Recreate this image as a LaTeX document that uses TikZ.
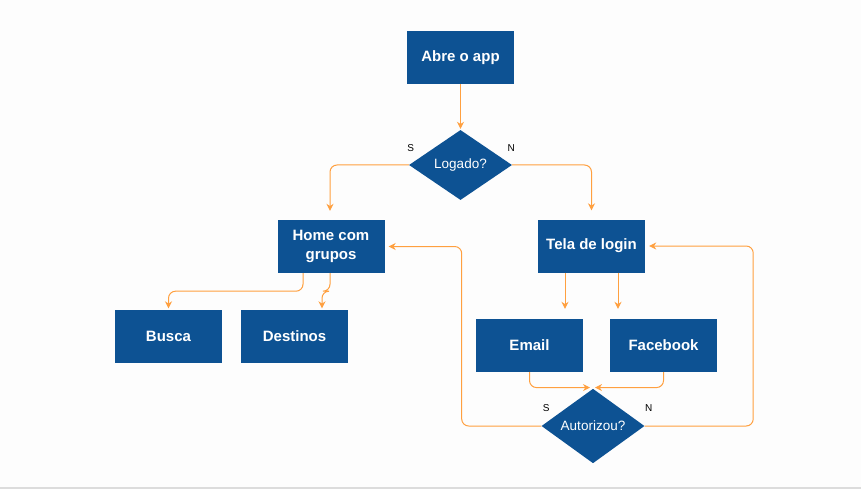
\documentclass[tikz,border=0pt]{standalone}
\usepackage{fontspec}
\setmainfont{Liberation Sans}
\usetikzlibrary{shapes.geometric,arrows.meta,positioning,calc}

\definecolor{appblue}{RGB}{13,82,147}
\definecolor{flowor}{RGB}{255,160,64}
\definecolor{pagebg}{RGB}{253,253,253}
\definecolor{pageline}{RGB}{220,220,220}

\tikzset{
    box/.style={rectangle, fill=appblue, text=white, align=center, inner sep=0pt,
        minimum width=107pt, minimum height=53pt,
        font=\bfseries\fontsize{15}{19}\selectfont},
    ask/.style={diamond, fill=appblue, text=white, inner sep=0pt,
        minimum width=103pt, minimum height=70pt,
        font=\fontsize{13.5}{16}\selectfont},
    flow/.style={draw=flowor, line width=1pt, rounded corners=7pt,
        -{Stealth[length=7pt,width=7pt]}},
    lbl/.style={inner sep=0pt, font=\fontsize{10}{12}\selectfont}
}

\begin{document}
\begin{tikzpicture}[x=1pt,y=-1pt]
    % page
    \useasboundingbox (0,0) rectangle (861,489);
    \fill [pagebg] (0,0) rectangle (861,489);
    \fill [pageline] (0,486.5) rectangle (861,489);

    % Start and first question
    \node [box] (abre) at (460.5,57.5) {Abre o app};
    \node [ask] (logado) at (460.5,165) {Logado?};
    \node [lbl] (s1) at ([xshift=2pt,yshift=17pt]logado.west) {S};
    \node [lbl] (n1) at ([xshift=-1pt,yshift=17pt]logado.east) {N};

    % Left branch
    \node [box] (home) at (331,246.5) {Home com\\grupos};
    \node [box] (busca) at (168.5,336) {Busca};
    \node [box] (destinos) at (294.5,336) {Destinos};

    % Right branch
    \node [box] (tela) at (591.5,246) {Tela de login};
    \node [box] (email) at (529.5,345.5) {Email};
    \node [box] (facebook) at (663.5,345.5) {Facebook};
    \node [ask] (autorizou) at (593,426) {Autorizou?};
    \node [lbl] (s2) at ([xshift=5pt,yshift=18pt]autorizou.west) {S};
    \node [lbl] (n2) at ([xshift=4pt,yshift=18pt]autorizou.east) {N};

    % Arrows
    \draw [flow, shorten >=1pt] (abre) -- (logado);
    \draw [flow, shorten >=9pt] (logado.west) -| ([xshift=-1pt]home.north);
    \draw [flow, shorten >=9pt] (logado.east) -| (tela.north);

    \draw [flow, shorten >=1pt] ([xshift=-28pt]home.south) -- ++(0,18) -| (busca.north);
    \draw [flow, shorten >=1pt] ([xshift=-1pt]home.south) -- ++(0,18) -| ([xshift=27.5pt]destinos.north);

    \foreach \side/\dx in {email/-26.5, facebook/26.5}
        \draw [flow, shorten >=10pt] ([xshift=\dx pt]tela.south) -- ([xshift=\dx pt]tela.south |- \side.north);

    \draw [flow] (email.south) |- ([xshift=-3pt,yshift=1pt]autorizou.north);
    \draw [flow] (facebook.south) |- ([xshift=2pt,yshift=1pt]autorizou.north);

    % Back to the boxes
    \draw [flow, shorten >=4pt] (autorizou.west) -| ([xshift=77pt]home.east) -- (home.east);
    \draw [flow, shorten >=4pt] (autorizou.east) -| ([xshift=108pt]tela.east) -- (tela.east);
\end{tikzpicture}
\end{document}
